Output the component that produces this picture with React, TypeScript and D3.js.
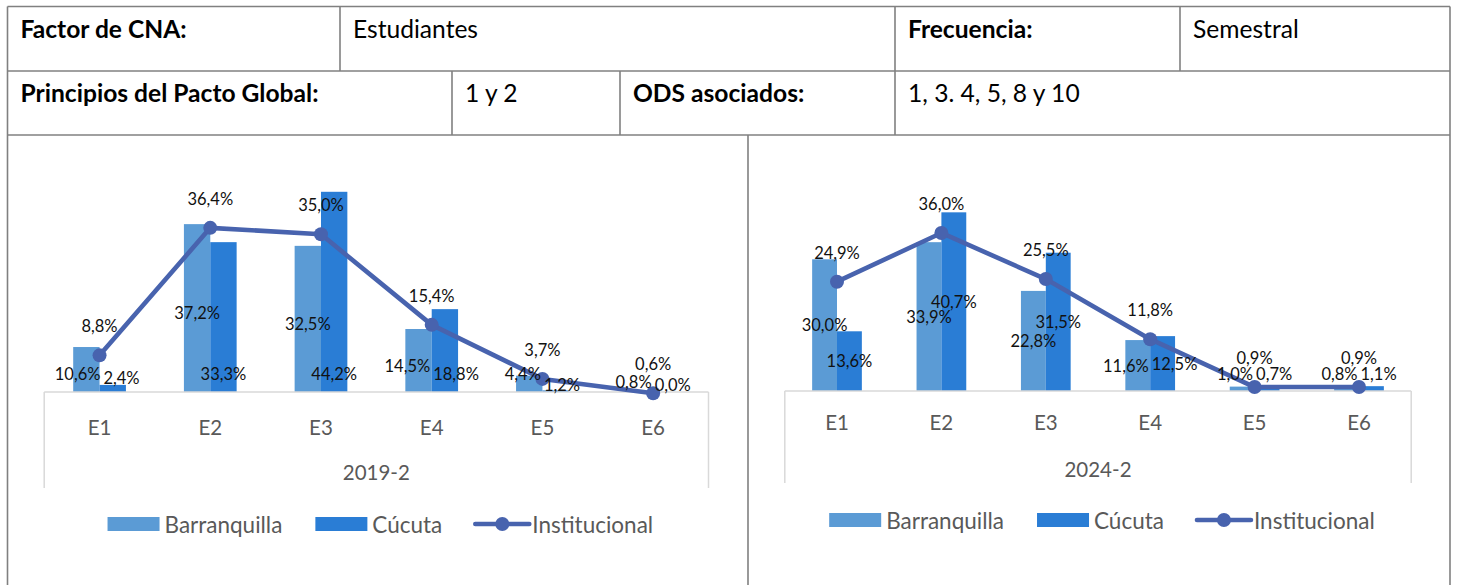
import React, { useEffect, useRef } from 'react';
import * as d3 from 'd3';

// ---------- data ----------
const categories = ['E1', 'E2', 'E3', 'E4', 'E5', 'E6'];
const seriesNames = ['Barranquilla', 'Cúcuta', 'Institucional'];
const periods = ['2019-2', '2024-2'];

const barranquilla2019 = [10.6, 37.2, 32.5, 14.5, 4.4, 0.8];
const cucuta2019 = [2.4, 33.3, 44.2, 18.8, 1.2, 0.0];
const institucional2019 = [8.8, 36.4, 35.0, 15.4, 3.7, 0.6];

const barranquilla2024 = [30.0, 33.9, 22.8, 11.6, 1.0, 0.8];
const cucuta2024 = [13.6, 40.7, 31.5, 12.5, 0.7, 1.1];
const institucional2024 = [24.9, 36.0, 25.5, 11.8, 0.9, 0.9];

const headerRow1 = ['Factor de CNA:', 'Estudiantes', 'Frecuencia:', 'Semestral'];
const headerRow1Bold = [true, false, true, false];
const headerRow2 = ['Principios del Pacto Global:', '1 y 2', 'ODS asociados:', '1, 3. 4, 5, 8 y 10'];
const headerRow2Bold = [true, false, true, false];

// ---------- styles / layout ----------
const FONT = 'Lato, "Open Sans", sans-serif';
const C_BARR = '#5B9BD5';
const C_CUC = '#2A7DD5';
const C_LINE = '#4863AE';
const C_GRID = '#D9D9D9';
const C_BORDER = '#808080';
const C_AXIS_TEXT = '#595959';

const W = 1457;
const H = 585;
const tableLeft = 7.5;
const tableRight = 1450;
const tableTop = 6.5;
const row1Bottom = 71;
const row2Bottom = 135;
const row1Cols = [tableLeft, 340, 895, 1180, tableRight];
const row2Cols = [tableLeft, 452, 620, 895, tableRight];
const panelDivider = 748;

interface PanelCfg {
  x0: number; x1: number; y0: number; k: number;
  axisTop: number; boxBottom: number; catY: number; periodY: number; legendY: number;
  cucBase: boolean; barrDy: number; clampB: number; clampC: number;
  barr: number[]; cuc: number[]; inst: number[]; period: string;
}

const panels: PanelCfg[] = [
  {
    x0: 44.2, x1: 708.5, y0: 396, k: 4.62, axisTop: 392, boxBottom: 488,
    catY: 427, periodY: 472, legendY: 524, cucBase: true, barrDy: 3, clampB: 22, clampC: 22,
    barr: barranquilla2019, cuc: cucuta2019, inst: institucional2019, period: periods[0],
  },
  {
    x0: 784.8, x1: 1411.2, y0: 391, k: 4.39, axisTop: 391, boxBottom: 483,
    catY: 422, periodY: 469, legendY: 520, cucBase: false, barrDy: 0, clampB: 17, clampC: 17,
    barr: barranquilla2024, cuc: cucuta2024, inst: institucional2024, period: periods[1],
  },
];

const fmt = (v: number) => v.toFixed(1).replace('.', ',') + '%';

function drawTable(svg: d3.Selection<SVGSVGElement, unknown, null, undefined>) {
  const g = svg.append('g');
  const line = (x1: number, y1: number, x2: number, y2: number) =>
    g.append('line').attr('x1', x1).attr('y1', y1).attr('x2', x2).attr('y2', y2)
      .attr('stroke', C_BORDER).attr('stroke-width', 1.6);
  line(tableLeft, tableTop, tableRight, tableTop);
  line(tableLeft, row1Bottom, tableRight, row1Bottom);
  line(tableLeft, row2Bottom, tableRight, row2Bottom);
  line(tableLeft, tableTop, tableLeft, H + 5);
  line(tableRight, tableTop, tableRight, H + 5);
  row1Cols.slice(1, -1).forEach((c) => line(c, tableTop, c, row1Bottom));
  row2Cols.slice(1, -1).forEach((c) => line(c, row1Bottom, c, row2Bottom));
  line(panelDivider, row2Bottom, panelDivider, H + 5);

  const texts = (row: string[], bold: boolean[], cols: number[], baseline: number) => {
    row.forEach((t, i) => {
      g.append('text').attr('x', cols[i] + 13).attr('y', baseline)
        .attr('font-family', FONT).attr('font-size', 24.6)
        .attr('font-weight', bold[i] ? 700 : 400).attr('fill', '#000').text(t);
    });
  };
  texts(headerRow1, headerRow1Bold, row1Cols, 37.5);
  texts(headerRow2, headerRow2Bold, row2Cols, 101.5);
}

function drawPanel(svg: d3.Selection<SVGSVGElement, unknown, null, undefined>, p: PanelCfg) {
  const g = svg.append('g');
  const x = d3.scaleBand<string>().domain(categories).range([p.x0, p.x1]);
  const y = d3.scaleLinear().domain([0, 50]).range([p.y0, p.y0 - 50 * p.k]);
  const groupW = x.bandwidth() / 2.1;
  const barW = groupW / 2;
  const cx = (i: number) => (x(categories[i]) as number) + x.bandwidth() / 2;

  // bars
  g.selectAll('rect.barr').data(p.barr).join('rect').attr('class', 'barr')
    .attr('x', (_d, i) => cx(i) - barW).attr('y', (d) => y(d))
    .attr('width', barW).attr('height', (d) => y(0) - y(d)).attr('fill', C_BARR);
  g.selectAll('rect.cuc').data(p.cuc).join('rect').attr('class', 'cuc')
    .attr('x', (_d, i) => cx(i)).attr('y', (d) => y(d))
    .attr('width', barW).attr('height', (d) => y(0) - y(d)).attr('fill', C_CUC);

  // category axis box
  g.append('rect').attr('x', p.x0).attr('y', p.axisTop).attr('width', p.x1 - p.x0)
    .attr('height', p.boxBottom - p.axisTop).attr('fill', '#fff');
  const gl = (x1: number, y1: number, x2: number, y2: number) =>
    g.append('line').attr('x1', x1).attr('y1', y1).attr('x2', x2).attr('y2', y2)
      .attr('stroke', C_GRID).attr('stroke-width', 1.5);
  gl(p.x0, p.axisTop, p.x1, p.axisTop);
  gl(p.x0, p.axisTop, p.x0, p.boxBottom);
  gl(p.x1, p.axisTop, p.x1, p.boxBottom);

  categories.forEach((c, i) => {
    g.append('text').attr('x', cx(i)).attr('y', p.catY).attr('text-anchor', 'middle')
      .attr('dominant-baseline', 'central').attr('font-family', FONT).attr('font-size', 20.5)
      .attr('fill', C_AXIS_TEXT).text(c);
  });
  g.append('text').attr('x', (p.x0 + p.x1) / 2).attr('y', p.periodY).attr('text-anchor', 'middle')
    .attr('dominant-baseline', 'central').attr('font-family', FONT).attr('font-size', 20.5)
    .attr('fill', C_AXIS_TEXT).text(p.period);

  // line
  const lineGen = d3.line<number>().x((_d, i) => cx(i)).y((d) => y(d));
  g.append('path').attr('d', lineGen(p.inst)).attr('fill', 'none').attr('stroke', C_LINE)
    .attr('stroke-width', 4.6).attr('stroke-linejoin', 'round').attr('stroke-linecap', 'round');
  g.selectAll('circle.inst').data(p.inst).join('circle').attr('class', 'inst')
    .attr('cx', (_d, i) => cx(i)).attr('cy', (d) => y(d)).attr('r', 7).attr('fill', C_LINE);

  // data labels
  const lbl = g.append('g').attr('font-family', FONT).attr('font-size', 16.5).attr('fill', '#111');
  const mk = (t: string, xx: number, yy: number) =>
    lbl.append('text').attr('x', xx).attr('y', yy).attr('text-anchor', 'middle')
      .attr('dominant-baseline', 'central').text(t);

  p.inst.forEach((v, i) => mk(fmt(v), cx(i), y(v) - 29));

  p.barr.forEach((vb, i) => {
    const vc = p.cuc[i];
    const hb = y(0) - y(vb);
    const hc = y(0) - y(vc);
    let yb: number;
    let yc: number;
    if (p.cucBase) {
      yb = hb < 15 ? y(0) - 14 : Math.min((y(vb) + y(0)) / 2 + p.barrDy, y(0) - p.clampB);
      yc = hc < 8 ? y(0) - 11 : y(0) - p.clampC + (hc < 15 ? 4 : 0);
    } else {
      yb = Math.min((y(vb) + y(0)) / 2, y(0) - p.clampB);
      yc = Math.min((y(vc) + y(0)) / 2, y(0) - p.clampC);
    }
    const xb = cx(i) - barW / 2;
    const xc = cx(i) + barW / 2;
    const tb = mk(fmt(vb), xb, yb);
    const tc = mk(fmt(vc), xc, yc);
    const wb = (tb.node() as SVGTextElement).getComputedTextLength();
    const wc = (tc.node() as SVGTextElement).getComputedTextLength();
    if (Math.abs(yb - yc) < 12) {
      const need = (wb + wc) / 2 + 3;
      const cur = xc - xb;
      if (need > cur) {
        const push = (need - cur) / 2;
        tb.attr('x', xb - push);
        tc.attr('x', xc + push);
      }
    }
  });

  // legend
  const lg = g.append('g').attr('font-family', FONT).attr('font-size', 22.5).attr('fill', C_AXIS_TEXT);
  const items: { w: number; node: d3.Selection<SVGGElement, unknown, null, undefined> }[] = [];
  const swW = 52;
  seriesNames.forEach((name, i) => {
    const it = lg.append('g');
    if (i < 2) {
      it.append('rect').attr('x', 0).attr('y', p.legendY - 7).attr('width', swW).attr('height', 14)
        .attr('fill', i === 0 ? C_BARR : C_CUC);
    } else {
      it.append('line').attr('x1', 0).attr('x2', swW + 2).attr('y1', p.legendY).attr('y2', p.legendY)
        .attr('stroke', C_LINE).attr('stroke-width', 4.6).attr('stroke-linecap', 'round');
      it.append('circle').attr('cx', (swW + 2) / 2).attr('cy', p.legendY).attr('r', 7).attr('fill', C_LINE);
    }
    const t = it.append('text').attr('x', swW + 5).attr('y', p.legendY).attr('dominant-baseline', 'central').text(name);
    const tw = (t.node() as SVGTextElement).getComputedTextLength();
    items.push({ w: swW + 5 + tw, node: it });
  });
  const gap = 33;
  const total = d3.sum(items, (d) => d.w) + gap * (items.length - 1);
  let cur = (p.x0 + p.x1) / 2 + 4 - total / 2;
  items.forEach((it) => {
    it.node.attr('transform', `translate(${cur},0)`);
    cur += it.w + gap;
  });
}

export default function App() {
  const ref = useRef<SVGSVGElement>(null);
  useEffect(() => {
    if (!ref.current) return;
    const svg = d3.select(ref.current);
    svg.selectAll('*').remove();
    svg.append('rect').attr('width', W).attr('height', H).attr('fill', '#fff');
    drawTable(svg);
    panels.forEach((p) => drawPanel(svg, p));
  }, []);
  return (
    <svg
      ref={ref}
      width={W}
      height={H}
      style={{ position: 'absolute', left: 0, top: 0, display: 'block' }}
    />
  );
}
